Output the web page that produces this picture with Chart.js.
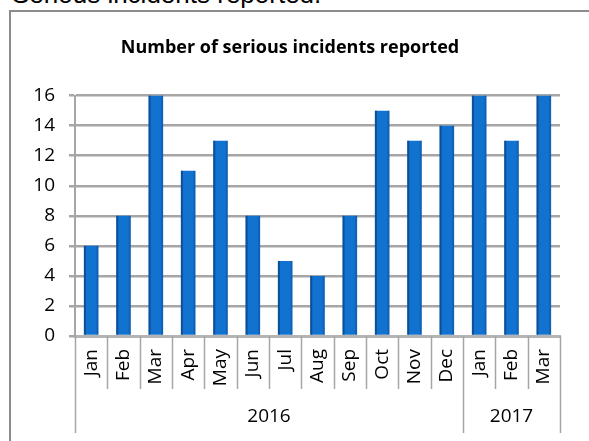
<!DOCTYPE html>
<html>
<head>
<meta charset="utf-8">
<script src="https://cdn.jsdelivr.net/npm/chart.js@4.4.1/dist/chart.umd.min.js"></script>
<style>
    html, body { margin: 0; padding: 0; width: 589px; height: 441px; overflow: hidden; background: #fff; }
    #heading {
        position: absolute; left: 12px; top: -19px;
        font-family: "Liberation Sans", Arial, sans-serif; font-size: 26px; line-height: 26px; color: #000;
        white-space: nowrap;
    }
    #frame {
        position: absolute; left: 9px; top: 10px; width: 700px; height: 600px;
        border: 2px solid #8c8c8c; box-sizing: border-box;
    }
    #wrap { position: absolute; left: 0; top: 0; width: 589px; height: 441px; }
</style>
</head>
<body>
<div id="heading">Serious incidents reported.</div>
<div id="frame"></div>
<div id="wrap"><canvas id="chart1"></canvas></div>
<script>
// Dados do gráfico
const months = ['Jan', 'Feb', 'Mar', 'Apr', 'May', 'Jun', 'Jul', 'Aug', 'Sep', 'Oct', 'Nov', 'Dec', 'Jan', 'Feb', 'Mar'];
const incidents = [6, 8, 16, 11, 13, 8, 5, 4, 8, 15, 13, 14, 16, 13, 16];
const years = ['2016', '2017'];
const yearSizes = [12, 3]; // quantos meses em cada ano
const yTicks = [0, 2, 4, 6, 8, 10, 12, 14, 16];

const font = 'Open Sans';

// Linhas separadoras e rótulos dos anos abaixo do eixo x
const groupAxis = {
    id: 'groupAxis',
    afterDraw(chart) {
        const ctx = chart.ctx;
        const x = chart.scales.x;
        const bottom = chart.chartArea.bottom;
        const half = (x.getPixelForValue(1) - x.getPixelForValue(0)) / 2;
        ctx.save();
        ctx.strokeStyle = '#a6a6a6';
        ctx.lineWidth = 1.5;
        // separadores dos meses
        for (let i = 0; i <= months.length; i++) {
            const px = Math.round(x.getPixelForValue(0) - half + i * half * 2) + 0.5;
            ctx.beginPath();
            ctx.moveTo(px, bottom);
            ctx.lineTo(px, bottom + 53);
            ctx.stroke();
        }
        // separadores dos anos e rótulos
        let start = 0;
        ctx.fillStyle = '#000';
        ctx.font = '19px "' + font + '"';
        ctx.textAlign = 'center';
        ctx.textBaseline = 'middle';
        for (let g = 0; g <= years.length; g++) {
            const px = Math.round(x.getPixelForValue(start) - half) + 0.5;
            ctx.beginPath();
            ctx.moveTo(px, bottom + 53);
            ctx.lineTo(px, bottom + 97);
            ctx.stroke();
            if (g < years.length) {
                const a = x.getPixelForValue(start) - half;
                const b = x.getPixelForValue(start + yearSizes[g] - 1) + half;
                ctx.fillText(years[g], (a + b) / 2, bottom + 81);
                start += yearSizes[g];
            }
        }
        ctx.restore();
    },
    afterDatasetsDraw(chart) {
        // borda escura lateral das barras (efeito 3D)
        const ctx = chart.ctx;
        const meta = chart.getDatasetMeta(0);
        ctx.save();
        meta.data.forEach(bar => {
            const left = bar.x - bar.width / 2;
            ctx.fillStyle = 'rgba(8, 50, 110, 0.55)';
            ctx.fillRect(left, bar.y, 2, bar.base - bar.y);
            ctx.fillStyle = 'rgba(8, 50, 110, 0.25)';
            ctx.fillRect(left + bar.width - 2, bar.y, 2, bar.base - bar.y);
        });
        ctx.restore();
    }
};

function createChart(id) {
    const ctx = document.getElementById(id).getContext('2d');
    return new Chart(ctx, {
        type: 'bar',
        data: {
            labels: months,
            datasets: [{
                label: 'Incidents',
                data: incidents,
                backgroundColor: '#1272cf',
                categoryPercentage: 1,
                barPercentage: 0.45
            }]
        },
        options: {
            responsive: true,
            maintainAspectRatio: false,
            animation: false,
            layout: { padding: { left: 20, right: 29, top: 0, bottom: 0 } },
            plugins: {
                legend: { display: false },
                tooltip: { enabled: false },
                title: {
                    display: true,
                    text: 'Number of serious incidents reported',
                    color: '#000',
                    font: { family: font, size: 18, weight: 'bold' },
                    padding: { top: 37, bottom: 37 }
                }
            },
            scales: {
                x: {
                    grid: { display: false, drawTicks: false },
                    border: { color: '#b4b4b4', width: 3 },
                    ticks: {
                        autoSkip: false,
                        minRotation: 90,
                        maxRotation: 90,
                        padding: 13,
                        color: '#000',
                        font: { family: font, size: 19 }
                    },
                    afterFit(scale) { scale.height = 105; }
                },
                y: {
                    min: 0,
                    max: 16,
                    afterBuildTicks(scale) { scale.ticks = yTicks.map(v => ({ value: v })); },
                    grid: { color: '#a6a6a6', lineWidth: 2.5, tickLength: 6 },
                    border: { color: '#a6a6a6', width: 2 },
                    ticks: {
                        padding: 14,
                        color: '#000',
                        font: { family: font, size: 19 }
                    },
                    afterFit(scale) { scale.width = 55; }
                }
            }
        },
        plugins: [groupAxis]
    });
}

window.onload = function () {
    createChart('chart1');
};
</script>
</body>
</html>
